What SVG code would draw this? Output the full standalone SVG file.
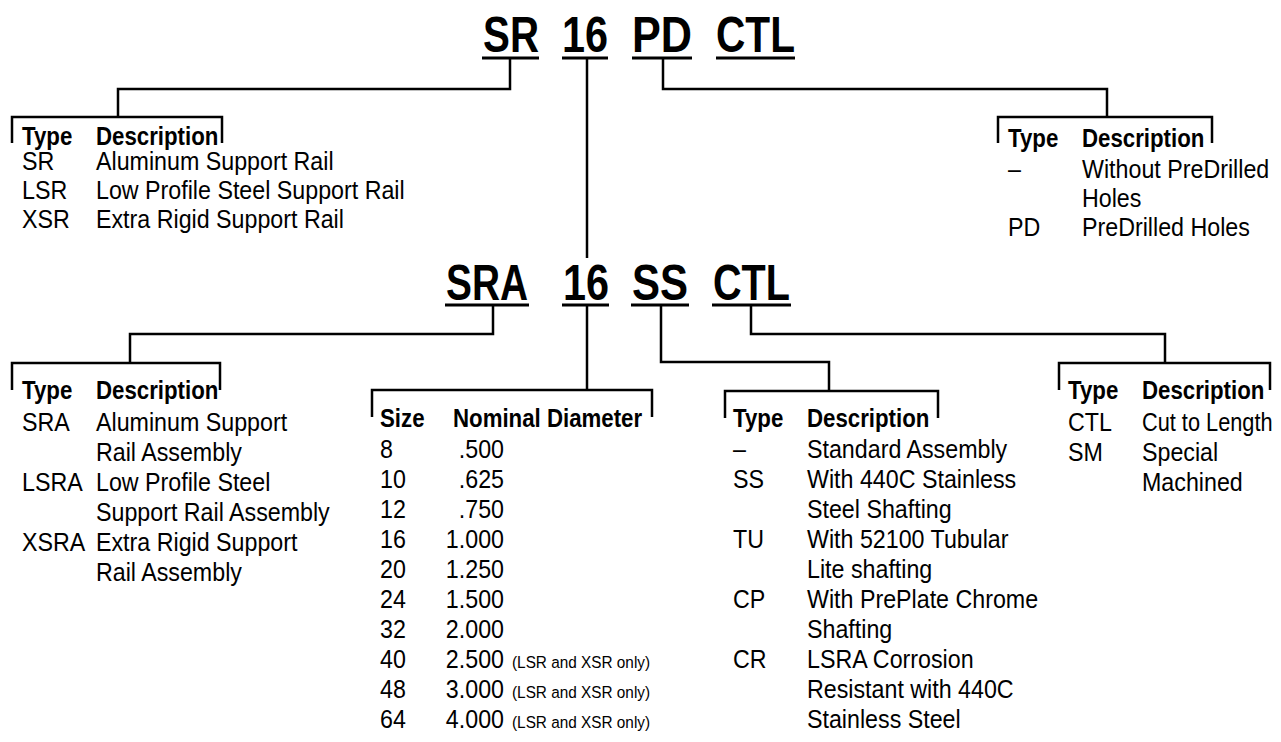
<svg xmlns="http://www.w3.org/2000/svg" width="1281" height="742" viewBox="0 0 1281 742">
<style>
text{font-family:"Liberation Sans",Arial,sans-serif;fill:#000}
.t{font-size:50px;font-weight:bold}
.h{font-size:25px;font-weight:bold}
.b{font-size:25px}
.s{font-size:16.5px}
.ul{stroke:#000;stroke-width:3;fill:none}
.ln{stroke:#000;stroke-width:2.5;fill:none}
</style>
<rect width="1281" height="742" fill="#fff"/>
<g id="title1">
<text class="t" x="483" y="52" textLength="56" lengthAdjust="spacingAndGlyphs">SR</text>
<text class="t" x="562" y="52" textLength="46" lengthAdjust="spacingAndGlyphs">16</text>
<text class="t" x="632" y="52" textLength="60" lengthAdjust="spacingAndGlyphs">PD</text>
<text class="t" x="716" y="52" textLength="79" lengthAdjust="spacingAndGlyphs">CTL</text>
<path class="ul" d="M482,58H539M562,58H608M632,58H692M716,58H795"/>
</g>
<g id="title2">
<text class="t" x="446" y="300" textLength="82" lengthAdjust="spacingAndGlyphs">SRA</text>
<text class="t" x="563" y="300" textLength="46" lengthAdjust="spacingAndGlyphs">16</text>
<text class="t" x="632" y="300" textLength="56" lengthAdjust="spacingAndGlyphs">SS</text>
<text class="t" x="713" y="300" textLength="77" lengthAdjust="spacingAndGlyphs">CTL</text>
<path class="ul" d="M445,305H529M562,305H609M631,305H689M712,305H791"/>
</g>
<g id="connectors">
<path class="ln" d="M510,59V89H118V117"/>
<path class="ln" d="M663,59V89H1107V117"/>
<path class="ln" d="M587,59V258"/>
<path class="ln" d="M493,306V334H130V363"/>
<path class="ln" d="M587,306V390"/>
<path class="ln" d="M661,306V362H829V391"/>
<path class="ln" d="M751,306V334H1165V363"/>
</g>
<g id="table-rail-type">
<path class="ln" d="M12,143V117H222V143"/>
<text class="h" transform="matrix(.89 0 0 1 22 145)">Type</text>
<text class="h" transform="matrix(.89 0 0 1 96 145)">Description</text>
<text class="b" transform="matrix(.93 0 0 1 22 170)">SR</text><text class="b" transform="matrix(.93 0 0 1 96 170)">Aluminum Support Rail</text>
<text class="b" transform="matrix(.93 0 0 1 22 199)">LSR</text><text class="b" transform="matrix(.93 0 0 1 96 199)">Low Profile Steel Support Rail</text>
<text class="b" transform="matrix(.93 0 0 1 22 228)">XSR</text><text class="b" transform="matrix(.93 0 0 1 96 228)">Extra Rigid Support Rail</text>
</g>
<g id="table-predrilled">
<path class="ln" d="M998,143V117H1212V143"/>
<text class="h" transform="matrix(.89 0 0 1 1008 147)">Type</text>
<text class="h" transform="matrix(.89 0 0 1 1082 147)">Description</text>
<text class="b" transform="matrix(.93 0 0 1 1008 178)">–</text><text class="b" transform="matrix(.93 0 0 1 1082 178)">Without PreDrilled</text>
<text class="b" transform="matrix(.93 0 0 1 1082 207)">Holes</text>
<text class="b" transform="matrix(.93 0 0 1 1008 236)">PD</text><text class="b" transform="matrix(.93 0 0 1 1082 236)">PreDrilled Holes</text>
</g>
<g id="table-assembly-type">
<path class="ln" d="M12,390V363H220V390"/>
<text class="h" transform="matrix(.89 0 0 1 22 399)">Type</text>
<text class="h" transform="matrix(.89 0 0 1 96 399)">Description</text>
<text class="b" transform="matrix(.93 0 0 1 22 431)">SRA</text><text class="b" transform="matrix(.93 0 0 1 96 431)">Aluminum Support</text>
<text class="b" transform="matrix(.93 0 0 1 96 461)">Rail Assembly</text>
<text class="b" transform="matrix(.93 0 0 1 22 491)">LSRA</text><text class="b" transform="matrix(.93 0 0 1 96 491)">Low Profile Steel</text>
<text class="b" transform="matrix(.93 0 0 1 96 521)">Support Rail Assembly</text>
<text class="b" transform="matrix(.93 0 0 1 22 551)">XSRA</text><text class="b" transform="matrix(.93 0 0 1 96 551)">Extra Rigid Support</text>
<text class="b" transform="matrix(.93 0 0 1 96 581)">Rail Assembly</text>
</g>
<g id="table-size">
<path class="ln" d="M372,417V390H652V417"/>
<text class="h" transform="matrix(.89 0 0 1 380 427)">Size</text>
<text class="h" transform="matrix(.89 0 0 1 453 427)">Nominal Diameter</text>
<text class="b" transform="matrix(.93 0 0 1 380 458)">8</text><text class="b" text-anchor="end" transform="matrix(.93 0 0 1 504 458)">.500</text>
<text class="b" transform="matrix(.93 0 0 1 380 488)">10</text><text class="b" text-anchor="end" transform="matrix(.93 0 0 1 504 488)">.625</text>
<text class="b" transform="matrix(.93 0 0 1 380 518)">12</text><text class="b" text-anchor="end" transform="matrix(.93 0 0 1 504 518)">.750</text>
<text class="b" transform="matrix(.93 0 0 1 380 548)">16</text><text class="b" text-anchor="end" transform="matrix(.93 0 0 1 504 548)">1.000</text>
<text class="b" transform="matrix(.93 0 0 1 380 578)">20</text><text class="b" text-anchor="end" transform="matrix(.93 0 0 1 504 578)">1.250</text>
<text class="b" transform="matrix(.93 0 0 1 380 608)">24</text><text class="b" text-anchor="end" transform="matrix(.93 0 0 1 504 608)">1.500</text>
<text class="b" transform="matrix(.93 0 0 1 380 638)">32</text><text class="b" text-anchor="end" transform="matrix(.93 0 0 1 504 638)">2.000</text>
<text class="b" transform="matrix(.93 0 0 1 380 668)">40</text><text class="b" text-anchor="end" transform="matrix(.93 0 0 1 504 668)">2.500</text><text class="s" transform="matrix(.93 0 0 1 512 668)">(LSR and XSR only)</text>
<text class="b" transform="matrix(.93 0 0 1 380 698)">48</text><text class="b" text-anchor="end" transform="matrix(.93 0 0 1 504 698)">3.000</text><text class="s" transform="matrix(.93 0 0 1 512 698)">(LSR and XSR only)</text>
<text class="b" transform="matrix(.93 0 0 1 380 728)">64</text><text class="b" text-anchor="end" transform="matrix(.93 0 0 1 504 728)">4.000</text><text class="s" transform="matrix(.93 0 0 1 512 728)">(LSR and XSR only)</text>
</g>
<g id="table-shafting">
<path class="ln" d="M725,418V391H938V418"/>
<text class="h" transform="matrix(.89 0 0 1 733 427)">Type</text>
<text class="h" transform="matrix(.89 0 0 1 807 427)">Description</text>
<text class="b" transform="matrix(.93 0 0 1 733 458)">–</text><text class="b" transform="matrix(.93 0 0 1 807 458)">Standard Assembly</text>
<text class="b" transform="matrix(.93 0 0 1 733 488)">SS</text><text class="b" transform="matrix(.93 0 0 1 807 488)">With 440C Stainless</text>
<text class="b" transform="matrix(.93 0 0 1 807 518)">Steel Shafting</text>
<text class="b" transform="matrix(.93 0 0 1 733 548)">TU</text><text class="b" transform="matrix(.93 0 0 1 807 548)">With 52100 Tubular</text>
<text class="b" transform="matrix(.93 0 0 1 807 578)">Lite shafting</text>
<text class="b" transform="matrix(.93 0 0 1 733 608)">CP</text><text class="b" transform="matrix(.93 0 0 1 807 608)">With PrePlate Chrome</text>
<text class="b" transform="matrix(.93 0 0 1 807 638)">Shafting</text>
<text class="b" transform="matrix(.93 0 0 1 733 668)">CR</text><text class="b" transform="matrix(.93 0 0 1 807 668)">LSRA Corrosion</text>
<text class="b" transform="matrix(.93 0 0 1 807 698)">Resistant with 440C</text>
<text class="b" transform="matrix(.93 0 0 1 807 728)">Stainless Steel</text>
</g>
<g id="table-length">
<path class="ln" d="M1059,390V363H1270V390"/>
<text class="h" transform="matrix(.89 0 0 1 1068 399)">Type</text>
<text class="h" transform="matrix(.89 0 0 1 1142 399)">Description</text>
<text class="b" transform="matrix(.93 0 0 1 1068 431)">CTL</text><text class="b" transform="matrix(.87 0 0 1 1142 431)">Cut to Length</text>
<text class="b" transform="matrix(.93 0 0 1 1068 461)">SM</text><text class="b" transform="matrix(.93 0 0 1 1142 461)">Special</text>
<text class="b" transform="matrix(.93 0 0 1 1142 491)">Machined</text>
</g>
</svg>
